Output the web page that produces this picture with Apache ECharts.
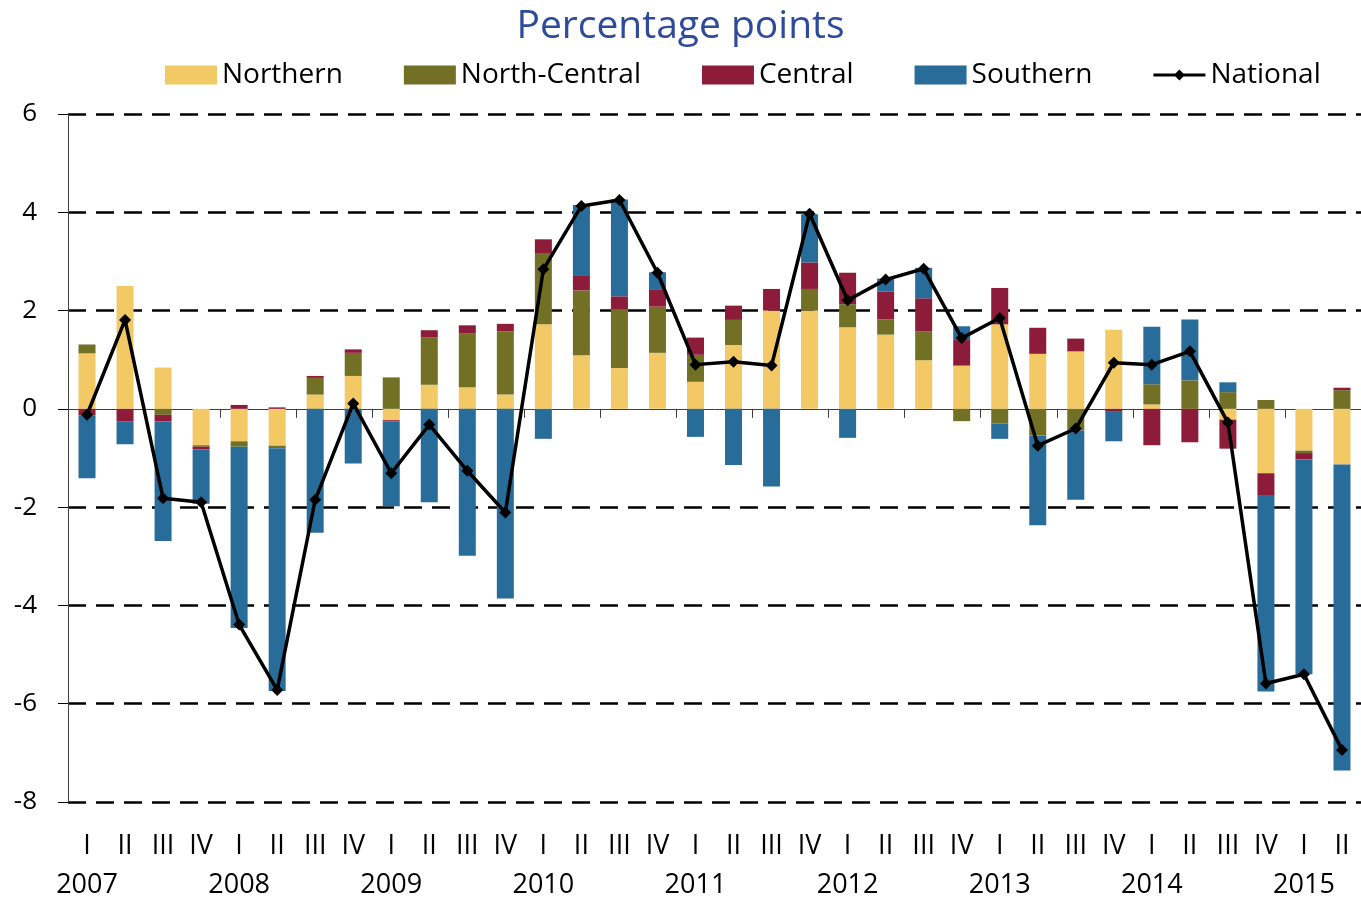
<!DOCTYPE html>
<html>
<head>
<meta charset="utf-8">
<script src="https://cdn.jsdelivr.net/npm/echarts@6/dist/echarts.min.js"></script>
<style>
html,body{margin:0;padding:0;background:#ffffff;}
#chart{width:1361px;height:899px;}
</style>
</head>
<body>
<div id="chart"></div>
<script>
// ---- data ----
const years = ['2007','2008','2009','2010','2011','2012','2013','2014','2015'];
const quarterNumerals = ['I','II','III','IV'];
const yTicks = [-8, -6, -4, -2, 0, 2, 4, 6];

const northern = [1.13, 2.50, 0.84, -0.74, -0.66, -0.75, 0.29, 0.67, -0.23, 0.49, 0.44, 0.29,
  1.72, 1.09, 0.83, 1.14, 0.55, 1.30, 2.00, 2.00, 1.66, 1.51, 0.99, 0.88,
  1.72, 1.12, 1.17, 1.61, 0.09, 0, -0.22, -1.31, -0.85, -1.13];
const northCentral = [0.18, 0, -0.12, -0.03, -0.11, -0.05, 0.34, 0.47, 0.64, 0.96, 1.09, 1.29,
  1.45, 1.32, 1.20, 0.94, 0.55, 0.51, 0, 0.44, 0.47, 0.31, 0.59, -0.25,
  -0.30, -0.54, -0.44, 0, 0.41, 0.58, 0.34, 0.18, -0.05, 0.38];
const central = [-0.13, -0.26, -0.13, -0.05, 0.08, 0.03, 0.04, 0.07, -0.03, 0.15, 0.17, 0.15,
  0.28, 0.31, 0.26, 0.34, 0.35, 0.29, 0.44, 0.54, 0.64, 0.57, 0.67, 0.52,
  0.74, 0.53, 0.26, -0.06, -0.74, -0.68, -0.59, -0.46, -0.13, 0.05];
const southern = [-1.28, -0.46, -2.44, -1.11, -3.69, -4.94, -2.52, -1.11, -1.72, -1.90, -2.99, -3.86,
  -0.61, 1.43, 1.97, 0.36, -0.57, -1.14, -1.58, 0.98, -0.59, 0.26, 0.62, 0.28,
  -0.31, -1.83, -1.41, -0.60, 1.17, 1.24, 0.20, -3.98, -4.37, -6.23];
const national = [-0.12, 1.81, -1.82, -1.90, -4.39, -5.72, -1.85, 0.11, -1.31, -0.32, -1.26, -2.11,
  2.84, 4.13, 4.25, 2.77, 0.90, 0.96, 0.88, 3.97, 2.21, 2.63, 2.85, 1.44,
  1.85, -0.75, -0.40, 0.94, 0.90, 1.17, -0.28, -5.59, -5.40, -6.94];

// ---- build categories ----
const categories = [];
years.forEach(function (y) {
  quarterNumerals.forEach(function (q) { categories.push(y + '|' + q); });
});
categories.length = national.length;

const FONT = 'Open Sans';
const colors = {
  northern: '#F2C964',
  northCentral: '#727024',
  central: '#8C1C3A',
  southern: '#286C9A',
  national: '#000000'
};

const splitColors = yTicks.map(function (t) { return t === 0 ? 'rgba(0,0,0,0)' : '#000000'; });

const nationalIcon = 'path://M0,0 L0.01,0 L0,0.01 Z M52,19 L51.99,19 L52,18.99 Z ' +
  'M0,8 L52,8 L52,11 L0,11 Z M26,4 L31.5,9.5 L26,15 L20.5,9.5 Z';

function barSeries(name, data, color) {
  return {
    name: name,
    type: 'bar',
    stack: 'regions',
    data: data,
    barWidth: 17,
    itemStyle: { color: color },
    emphasis: { disabled: true },
    z: 2
  };
}

const chart = echarts.init(document.getElementById('chart'), null, { renderer: 'canvas' });
chart.setOption({
  animation: false,
  backgroundColor: '#ffffff',
  textStyle: { fontFamily: FONT },
  title: {
    text: 'Percentage points',
    left: 'center',
    top: 2,
    textStyle: { fontFamily: FONT, fontSize: 39, fontWeight: 'normal', color: '#2E4A9A' }
  },
  legend: {
    left: 160,
    top: 56,
    itemWidth: 52,
    itemHeight: 19,
    itemGap: 61,
    textStyle: { fontFamily: FONT, fontSize: 28, color: '#000000' },
    data: [
      { name: 'Northern', icon: 'rect' },
      { name: 'North-Central', icon: 'rect' },
      { name: 'Central', icon: 'rect' },
      { name: 'Southern', icon: 'rect' },
      { name: 'National', icon: nationalIcon }
    ]
  },
  grid: { left: 68, width: 1300, top: 114, bottom: 91, containLabel: false },
  xAxis: [
    {
      type: 'category',
      data: categories,
      position: 'bottom',
      axisLine: { show: true, onZero: true, lineStyle: { color: '#404040', width: 1 } },
      axisTick: { show: true, length: 9, lineStyle: { color: '#404040', width: 1 } },
      axisLabel: { show: false },
      splitLine: { show: false }
    },
    {
      type: 'category',
      data: categories,
      position: 'bottom',
      axisLine: { show: false, onZero: false },
      axisTick: { show: false },
      splitLine: { show: false },
      axisLabel: {
        show: true,
        interval: 0,
        margin: 25,
        formatter: function (v) {
          const parts = v.split('|');
          const yr = parts[1] === 'I' ? parts[0] : ' ';
          return '{q|' + parts[1] + '}\n{y|' + yr + '}';
        },
        rich: {
          q: { fontFamily: FONT, fontSize: 27, color: '#000000', lineHeight: 39 },
          y: { fontFamily: FONT, fontSize: 27, color: '#000000', lineHeight: 39 }
        }
      }
    }
  ],
  yAxis: {
    type: 'value',
    min: -8,
    max: 6,
    interval: 2,
    axisLine: { show: true, lineStyle: { color: '#404040', width: 1 } },
    axisTick: { show: true, length: 10, lineStyle: { color: '#000000', width: 1 } },
    axisLabel: { fontFamily: FONT, fontSize: 26, color: '#000000', margin: 31 },
    splitLine: { show: true, lineStyle: { color: splitColors, width: 2.5, type: [18, 10] } }
  },
  series: [
    barSeries('Northern', northern, colors.northern),
    barSeries('North-Central', northCentral, colors.northCentral),
    barSeries('Central', central, colors.central),
    barSeries('Southern', southern, colors.southern),
    {
      name: 'National',
      type: 'line',
      data: national,
      symbol: 'diamond',
      symbolSize: 12,
      showAllSymbol: true,
      lineStyle: { color: colors.national, width: 3.5 },
      itemStyle: { color: colors.national, borderWidth: 0 },
      emphasis: { disabled: true },
      z: 5
    }
  ]
});
</script>
</body>
</html>
